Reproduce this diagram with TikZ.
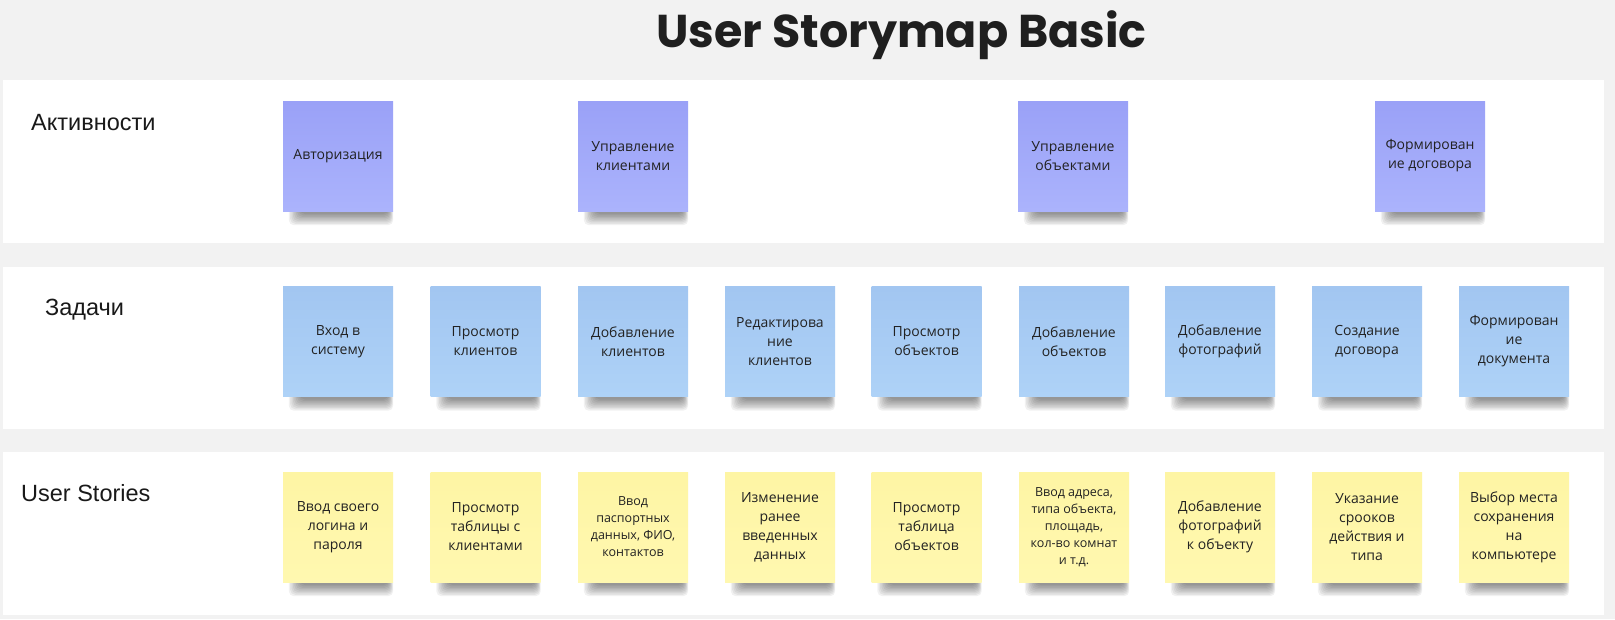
\documentclass[tikz,border=0pt]{standalone}
\usepackage{fontspec}
\setmainfont{Open Sans}
\newfontfamily\labelfont{Liberation Sans}
\newfontfamily\titlefont{Poppins}
\usetikzlibrary{calc}
\pgfdeclarelayer{bands}
\pgfdeclarelayer{shadows}
\pgfsetlayers{bands,shadows,main}
\definecolor{pagebg}{HTML}{F2F2F2}
\definecolor{actTop}{HTML}{9AA1F7}
\definecolor{actBot}{HTML}{ABB3FC}
\definecolor{taskTop}{HTML}{A2C6F1}
\definecolor{taskBot}{HTML}{AED2F7}
\definecolor{storyTop}{HTML}{FEF5A4}
\definecolor{storyBot}{HTML}{FFF8B0}
\definecolor{ink}{HTML}{222222}
\newcommand\shadowfor[1]{%
  \foreach \k in {0,...,8}{%
    \fill[black, opacity=0.055, rounded corners=5pt]
      ($(#1.south west)+(6+\k*1.4,-4)$) rectangle ($(#1.south east)+(-\k*0.6,14-\k*1.4)$);
  }}
\tikzset{
  sticky/.style={minimum width=110pt, minimum height=110pt, inner sep=0pt, align=center,
    text=ink, font=\fontsize{14}{19}\selectfont},
  small/.style={font=\fontsize{12.5}{17}\selectfont},
  act/.style={sticky, top color=actTop, bottom color=actBot},
  task/.style={sticky, top color=taskTop, bottom color=taskBot},
  story/.style={sticky, top color=storyTop, bottom color=storyBot},
  rowlabel/.style={anchor=base west, inner sep=0pt, font=\labelfont\fontsize{23.5}{28}\selectfont, text=black!90},
  band/.style={fill=white}
}
\begin{document}
\begin{tikzpicture}[x=1pt,y=-1pt]
\useasboundingbox (0,0) rectangle (1615,619);

\node[anchor=base, inner sep=0pt, font=\titlefont\bfseries\fontsize{46}{54}\selectfont, text=black!88] (title) at (901.5,47) {User Storymap Basic};

\begin{pgfonlayer}{bands}
\fill[pagebg] (0,0) rectangle (1615,619);
\fill[band] (3,80) rectangle (1604,243);
\fill[band] (3,267) rectangle (1604,429);
\fill[band] (3,452) rectangle (1604,615);
\end{pgfonlayer}

\node[rowlabel] (lact) at (31,130) {Активности};
\node[rowlabel] (ltask) at (45,315) {Задачи};
\node[rowlabel] (lstory) at (21,501) {User Stories};

% activities
\node[act] (a1) at (338,156) {Авторизация};
\node[act] (a2) at (633,156) {Управление\\клиентами};
\node[act] (a3) at (1073,156) {Управление\\объектами};
\node[act] (a4) at (1430,156) {Формирован\\ие договора};

% tasks
\node[task] (t1) at (338,341.5) {Вход в\\систему};
\node[task] (t2) at (485.5,341.5) {Просмотр\\клиентов};
\node[task] (t3) at (633,341.5) {Добавление\\клиентов};
\node[task] (t4) at (780,341.5) {Редактирова\\ние\\клиентов};
\node[task] (t5) at (926.5,341.5) {Просмотр\\объектов};
\node[task] (t6) at (1074,341.5) {Добавление\\объектов};
\node[task] (t7) at (1220,341.5) {Добавление\\фотографий};
\node[task] (t8) at (1367,341.5) {Создание\\договора};
\node[task] (t9) at (1514,341.5) {Формирован\\ие\\документа};

% stories
\node[story] (s1) at (338,527) {Ввод своего\\логина и\\пароля};
\node[story] (s2) at (485.5,527) {Просмотр\\таблицы с\\клиентами};
\node[story, small] (s3) at (633,527) {Ввод\\паспортных\\данных, ФИО,\\контактов};
\node[story] (s4) at (780,527) {Изменение\\ранее\\введенных\\данных};
\node[story] (s5) at (926.5,527) {Просмотр\\таблица\\объектов};
\node[story, small] (s6) at (1074,527) {Ввод адреса,\\типа объекта,\\площадь,\\кол-во комнат\\и т.д.};
\node[story] (s7) at (1220,527) {Добавление\\фотографий\\к объекту};
\node[story] (s8) at (1367,527) {Указание\\срооков\\действия и\\типа};
\node[story] (s9) at (1514,527) {Выбор места\\сохранения\\на\\компьютере};

\begin{pgfonlayer}{shadows}
\foreach \n in {a1,a2,a3,a4,t1,t2,t3,t4,t5,t6,t7,t8,t9,s1,s2,s3,s4,s5,s6,s7,s8,s9}{\shadowfor{\n}}
\end{pgfonlayer}
\end{tikzpicture}
\end{document}
